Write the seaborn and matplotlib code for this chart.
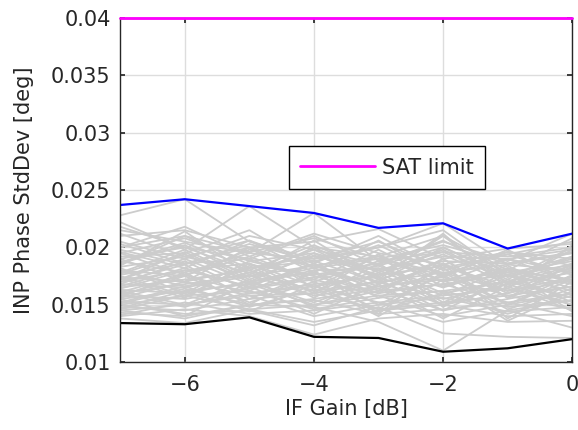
import numpy as np
import pandas as pd
import seaborn as sns
import matplotlib.pyplot as plt

# IF gain steps [dB]
if_gain = [-7, -6, -5, -4, -3, -2, -1, 0]

# envelope of all traces
max_trace = [0.0237, 0.0242, 0.0236, 0.0230, 0.0217, 0.0221, 0.0199, 0.0212]
min_trace = [0.0134, 0.0133, 0.0139, 0.0122, 0.0121, 0.0109, 0.0112, 0.0120]
sat_limit = 0.04

# individual channel traces (phase std dev, deg)
grey_traces = [
    [0.0228, 0.0242, 0.0205, 0.0190, 0.0200, 0.0221, 0.0185, 0.0195],
    [0.0222, 0.0198, 0.0236, 0.0200, 0.0192, 0.0210, 0.0180, 0.0208],
    [0.0215, 0.0205, 0.0195, 0.0230, 0.0188, 0.0196, 0.0192, 0.0200],
    [0.0210, 0.0215, 0.0200, 0.0205, 0.0216, 0.0190, 0.0199, 0.0203],
    [0.0205, 0.0190, 0.0210, 0.0198, 0.0185, 0.0205, 0.0188, 0.0212],
    [0.0200, 0.0218, 0.0192, 0.0212, 0.0195, 0.0185, 0.0196, 0.0190],
    [0.0198, 0.0185, 0.0203, 0.0188, 0.0200, 0.0215, 0.0175, 0.0185],
    [0.0195, 0.0208, 0.0188, 0.0195, 0.0180, 0.0192, 0.0190, 0.0198],
    [0.0192, 0.0195, 0.0215, 0.0182, 0.0190, 0.0178, 0.0185, 0.0180],
    [0.0190, 0.0200, 0.0180, 0.0202, 0.0178, 0.0198, 0.0170, 0.0192],
    [0.0188, 0.0178, 0.0195, 0.0190, 0.0205, 0.0182, 0.0194, 0.0176],
    [0.0185, 0.0210, 0.0185, 0.0176, 0.0186, 0.0206, 0.0178, 0.0188],
    [0.0183, 0.0192, 0.0178, 0.0198, 0.0172, 0.0188, 0.0186, 0.0195],
    [0.0180, 0.0175, 0.0198, 0.0184, 0.0192, 0.0170, 0.0180, 0.0172],
    [0.0178, 0.0198, 0.0172, 0.0193, 0.0176, 0.0194, 0.0168, 0.0184],
    [0.0176, 0.0186, 0.0190, 0.0170, 0.0188, 0.0176, 0.0190, 0.0178],
    [0.0174, 0.0170, 0.0182, 0.0188, 0.0170, 0.0200, 0.0174, 0.0190],
    [0.0172, 0.0190, 0.0168, 0.0180, 0.0182, 0.0165, 0.0182, 0.0170],
    [0.0170, 0.0180, 0.0186, 0.0166, 0.0176, 0.0184, 0.0166, 0.0182],
    [0.0168, 0.0165, 0.0175, 0.0184, 0.0166, 0.0172, 0.0178, 0.0168],
    [0.0166, 0.0182, 0.0165, 0.0174, 0.0184, 0.0160, 0.0170, 0.0186],
    [0.0165, 0.0172, 0.0180, 0.0162, 0.0170, 0.0178, 0.0162, 0.0174],
    [0.0163, 0.0160, 0.0170, 0.0178, 0.0160, 0.0168, 0.0176, 0.0162],
    [0.0161, 0.0176, 0.0160, 0.0168, 0.0174, 0.0155, 0.0168, 0.0178],
    [0.0160, 0.0168, 0.0176, 0.0158, 0.0166, 0.0174, 0.0158, 0.0166],
    [0.0158, 0.0155, 0.0164, 0.0172, 0.0158, 0.0162, 0.0170, 0.0156],
    [0.0156, 0.0170, 0.0158, 0.0160, 0.0170, 0.0150, 0.0160, 0.0172],
    [0.0155, 0.0162, 0.0168, 0.0150, 0.0162, 0.0168, 0.0152, 0.0160],
    [0.0153, 0.0150, 0.0160, 0.0166, 0.0152, 0.0158, 0.0164, 0.0150],
    [0.0151, 0.0164, 0.0150, 0.0155, 0.0164, 0.0145, 0.0155, 0.0166],
    [0.0150, 0.0158, 0.0162, 0.0146, 0.0156, 0.0162, 0.0148, 0.0154],
    [0.0148, 0.0145, 0.0155, 0.0160, 0.0146, 0.0152, 0.0158, 0.0146],
    [0.0146, 0.0158, 0.0146, 0.0150, 0.0158, 0.0140, 0.0150, 0.0160],
    [0.0145, 0.0150, 0.0158, 0.0140, 0.0150, 0.0156, 0.0144, 0.0148],
    [0.0143, 0.0140, 0.0150, 0.0154, 0.0142, 0.0146, 0.0152, 0.0140],
    [0.0141, 0.0152, 0.0142, 0.0145, 0.0152, 0.0135, 0.0145, 0.0154],
    [0.0138, 0.0134, 0.0146, 0.0135, 0.0145, 0.0150, 0.0140, 0.0142],
    [0.0140, 0.0146, 0.0140, 0.0124, 0.0138, 0.0142, 0.0135, 0.0136],
    [0.0145, 0.0138, 0.0150, 0.0148, 0.0135, 0.0110, 0.0145, 0.0130],
    [0.0150, 0.0142, 0.0145, 0.0132, 0.0148, 0.0125, 0.0122, 0.0121],
    [0.0182, 0.0160, 0.0188, 0.0175, 0.0160, 0.0190, 0.0156, 0.0175],
    [0.0172, 0.0196, 0.0170, 0.0195, 0.0168, 0.0185, 0.0160, 0.0180],
    [0.0168, 0.0188, 0.0162, 0.0186, 0.0156, 0.0182, 0.0150, 0.0172],
    [0.0190, 0.0170, 0.0200, 0.0164, 0.0194, 0.0166, 0.0184, 0.0158],
    [0.0175, 0.0158, 0.0184, 0.0156, 0.0186, 0.0152, 0.0176, 0.0152],
    [0.0200, 0.0210, 0.0196, 0.0208, 0.0190, 0.0202, 0.0186, 0.0196],
    [0.0160, 0.0148, 0.0166, 0.0142, 0.0168, 0.0138, 0.0166, 0.0145],
    [0.0186, 0.0202, 0.0174, 0.0200, 0.0174, 0.0210, 0.0168, 0.0198],
    [0.0155, 0.0140, 0.0170, 0.0152, 0.0172, 0.0145, 0.0172, 0.0156],
    [0.0212, 0.0192, 0.0206, 0.0186, 0.0210, 0.0180, 0.0194, 0.0205],
    [0.0170, 0.0185, 0.0155, 0.0178, 0.0150, 0.0176, 0.0146, 0.0164],
    [0.0195, 0.0176, 0.0192, 0.0172, 0.0198, 0.0170, 0.0190, 0.0170],
    [0.0164, 0.0180, 0.0166, 0.0186, 0.0162, 0.0190, 0.0156, 0.0186],
    [0.0180, 0.0166, 0.0178, 0.0162, 0.0180, 0.0158, 0.0182, 0.0164],
    [0.0158, 0.0175, 0.0152, 0.0170, 0.0146, 0.0178, 0.0150, 0.0176],
    [0.0203, 0.0186, 0.0200, 0.0182, 0.0202, 0.0176, 0.0196, 0.0184],
    [0.0187, 0.0204, 0.0182, 0.0192, 0.0180, 0.0196, 0.0172, 0.0200],
    [0.0152, 0.0166, 0.0148, 0.0164, 0.0144, 0.0160, 0.0142, 0.0158],
    [0.0177, 0.0194, 0.0170, 0.0182, 0.0164, 0.0186, 0.0162, 0.0183],
    [0.0162, 0.0150, 0.0172, 0.0148, 0.0178, 0.0150, 0.0168, 0.0150],
    [0.0218, 0.0200, 0.0190, 0.0210, 0.0184, 0.0200, 0.0176, 0.0192],
    [0.0184, 0.0214, 0.0176, 0.0206, 0.0172, 0.0212, 0.0164, 0.0202],
    [0.0157, 0.0178, 0.0150, 0.0180, 0.0142, 0.0186, 0.0138, 0.0170],
    [0.0173, 0.0156, 0.0186, 0.0160, 0.0194, 0.0148, 0.0180, 0.0144],
    [0.0196, 0.0182, 0.0206, 0.0178, 0.0206, 0.0174, 0.0198, 0.0168],
    [0.0147, 0.0162, 0.0144, 0.0168, 0.0140, 0.0172, 0.0136, 0.0162],
]

# long-form table for seaborn
rows = []
for i, tr in enumerate(grey_traces):
    for g, v in zip(if_gain, tr):
        rows.append({"trace": i, "gain": g, "std": v})
df = pd.DataFrame(rows)

sns.set_theme(style="ticks")
plt.rcParams['font.family'] = ['DejaVu Sans']

fig = plt.figure(figsize=(5.78, 4.30), dpi=100)
ax = fig.add_axes([0.208, 0.158, 0.782, 0.8])

sns.lineplot(data=df, x="gain", y="std", units="trace", estimator=None,
             color="#cccccc", lw=1.3, ax=ax, legend=False)
sns.lineplot(x=if_gain, y=max_trace, color="#0000ff", lw=1.6, ax=ax)
sns.lineplot(x=if_gain, y=min_trace, color="black", lw=1.6, ax=ax)
sns.lineplot(x=if_gain, y=[sat_limit] * len(if_gain), color="#ff00ff",
             lw=2.0, ax=ax, label="SAT limit")
ax.lines[-1].set_clip_on(False)
ax.lines[-1].set_zorder(5)

ax.set_xlim(-7, 0)
ax.set_ylim(0.01, 0.04)
ax.set_xticks([-6, -4, -2, 0])
ax.set_xticklabels(["\u22126", "\u22124", "\u22122", "0"])
ax.set_yticks([0.01, 0.015, 0.02, 0.025, 0.03, 0.035, 0.04])
ax.set_yticklabels(["0.01", "0.015", "0.02", "0.025", "0.03", "0.035", "0.04"])
ax.grid(True, color="#dddddd", lw=1.0)
ax.set_axisbelow(True)
ax.tick_params(direction="in", labelsize=15, length=3.5, colors="#262626",
               top=True, right=True)
ax.tick_params(axis="x", pad=9)
ax.tick_params(axis="y", pad=7)
for s in ax.spines.values():
    s.set_color("#262626")
    s.set_linewidth(1.0)

ax.set_xlabel("IF Gain [dB]", fontsize=15, color="#262626", labelpad=3)
ax.set_ylabel("INP Phase StdDev [deg]", fontsize=15, color="#262626", labelpad=12)

leg = ax.legend(loc="center", bbox_to_anchor=(0.59, 0.565), fontsize=15,
                frameon=True, fancybox=False, framealpha=1, edgecolor="black",
                handlelength=3.6, handletextpad=0.3, borderpad=0.55)
leg.get_frame().set_linewidth(1.0)

fig.savefig("out.png", dpi=100)
